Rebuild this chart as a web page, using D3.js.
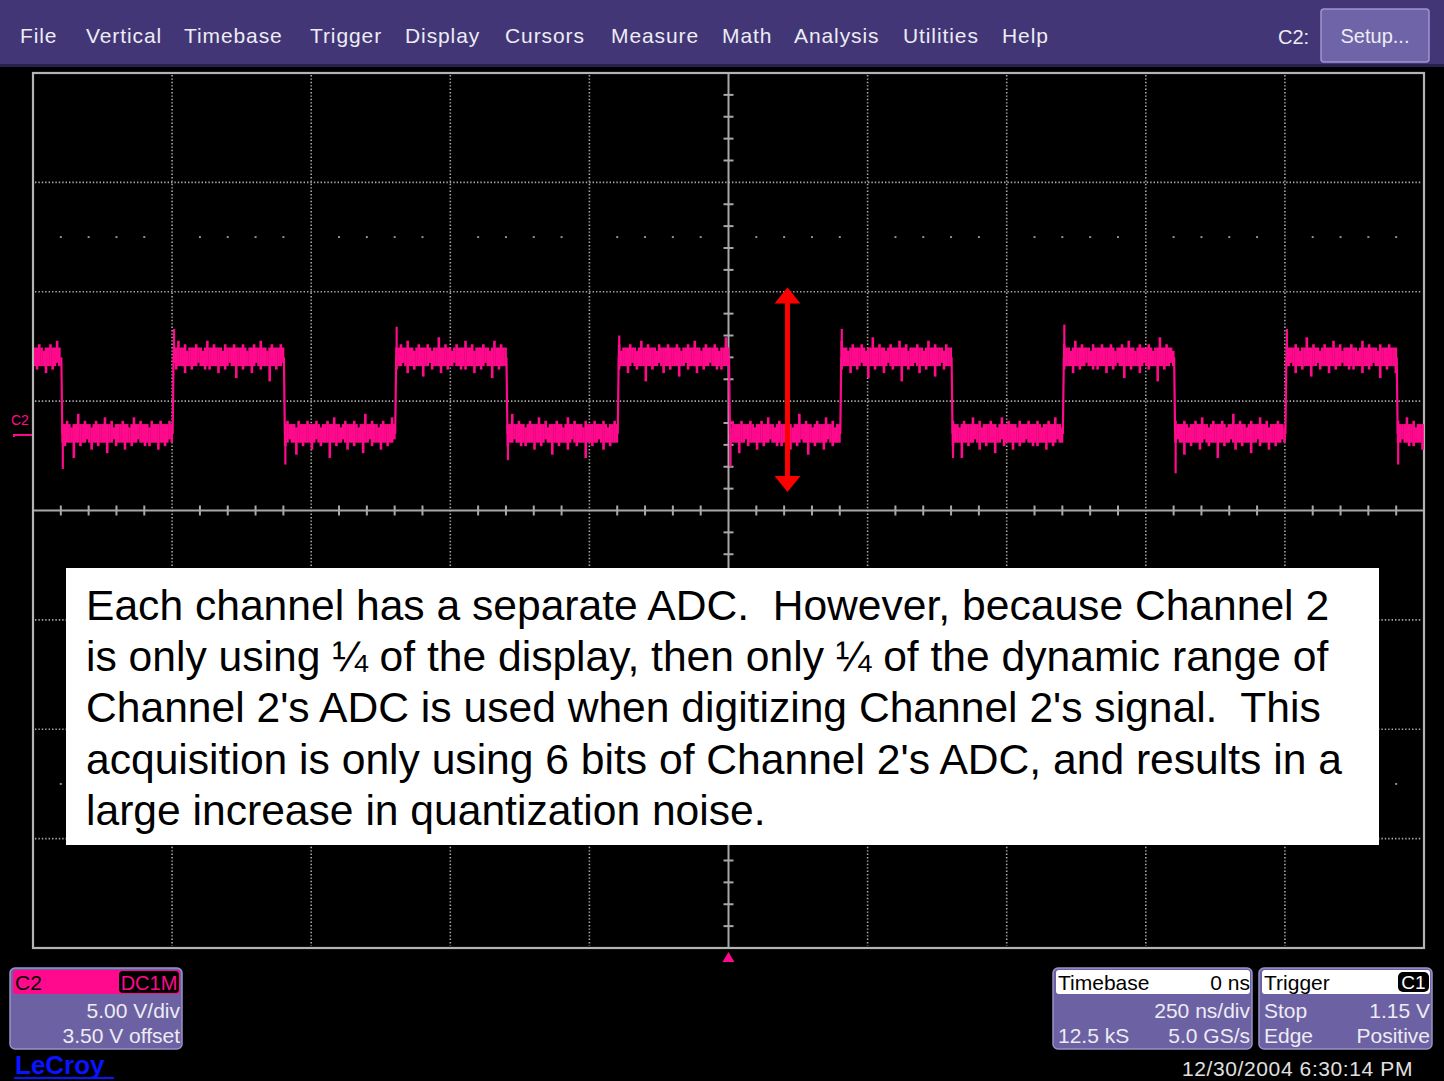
<!DOCTYPE html>
<html><head><meta charset="utf-8">
<script src="https://cdn.jsdelivr.net/npm/d3@7"></script>
<style>
html,body{margin:0;padding:0;background:#000;}
svg{display:block;}
text{font-family:"Liberation Sans",Arial,sans-serif;}
</style></head>
<body>
<script>
// ---------- data ----------
const menuItems = ["File","Vertical","Timebase","Trigger","Display","Cursors","Measure","Math","Analysis","Utilities","Help"];
const channelLabel = "C2";
const channelInfo = ["5.00 V/div","3.50 V offset"];
const couplingLabel = "DC1M";
const timebaseInfo = {title:"Timebase", delay:"0 ns", div:"250 ns/div", samples:"12.5 kS", rate:"5.0 GS/s"};
const triggerInfo = {title:"Trigger", src:"C1", mode:"Stop", level:"1.15 V", type:"Edge", slope:"Positive"};
const timestamp = "12/30/2004 6:30:14 PM";
const noteLines = [
  "Each channel has a separate ADC.  However, because Channel 2",
  "is only using \u00BC of the display, then only \u00BC of the dynamic range of",
  "Channel 2's ADC is used when digitizing Channel 2's signal.  This",
  "acquisition is only using 6 bits of Channel 2's ADC, and results in a",
  "large increase in quantization noise."
];
// axis settings: 250 ns/div (10 div), 5 V/div (8 div), offset 3.5 V
const timeDomain = [-1250, 1250];   // ns
const voltDomain = [-23.5, 16.5];   // V
// square wave (volts / ns)
const levelHigh = 3.5;
const levelLow = 0.0;
const fallEdges = [-1200, -800, -400, 0, 400, 800, 1200];
const fallUndershoot = [-1.6, -1.4, -1.2, -1.5, -1.1, -1.8, -1.4];
const riseEdges = [-1000, -600, -200, 200, 600, 1000];
const riseOvershoot = [4.8, 4.9, 4.5, 4.8, 5.0, 4.8];
// quantization noise envelope (V above / below level)
const noiseUp = [0.45,0.45,0.60,0.45,0.30,0.45,0.45,0.60,0.45,0.45,0.76,0.45,0.45,0.30,0.45,0.60,0.45,0.45,0.45,0.60,0.45,0.30,0.45,0.45,0.92,0.45,0.45,0.60,0.45,0.45,0.30,0.45,0.60,0.45,0.45,0.45,0.76,0.45,0.45,0.60,0.30,0.45,0.45,0.45,0.60,0.45,0.45,0.30,0.45,0.76,0.45,0.45,0.60,0.45,0.45,0.45,0.30,0.60,0.45,0.45,0.45,0.60,0.45];
const noiseDown = [0.40,0.56,0.40,0.40,0.40,0.72,0.40,0.40,0.56,0.40,0.25,0.40,0.40,0.95,0.40,0.40,0.56,0.40,0.40,0.40,0.72,0.40,0.25,0.40,0.56,0.40,0.40,0.40,1.10,0.40,0.40,0.56,0.40,0.40,0.25,0.40,0.72,0.40,0.40,0.56,0.40,0.40,0.40,0.88,0.40,0.40,0.25,0.56,0.40,0.40,0.40,0.72,0.40,0.40,0.56,0.40,0.40,0.25,0.40,0.40,0.56];
const sampleStep = 4; // ns per displayed column
// annotation arrow (ns, V)
const arrowT = 106, arrowTop = 6.7, arrowBottom = -2.65;

// ---------- layout ----------
const W = 1444, H = 1081;
const plot = {x0:33, x1:1424, y0:73, y1:948};
const menuX = [20,86,184,310,405,505,611,722,794,903,1002];
const pink = "#ff0a8c", gridC = "#a8a8a8", boxFill = "#6c61a2", boxStroke = "#9a92c8", textC = "#ececf4";

const svg = d3.select("body").append("svg").attr("width", W).attr("height", H);
svg.append("rect").attr("width", W).attr("height", H).attr("fill", "#000");

// menu bar
svg.append("rect").attr("x",0).attr("y",0).attr("width",W).attr("height",65).attr("fill","#433676");
svg.append("rect").attr("x",0).attr("y",64).attr("width",W).attr("height",3).attr("fill","#2a2050");
svg.selectAll("text.menu").data(menuItems).join("text").attr("class","menu")
  .attr("x",(d,i)=>menuX[i]).attr("y",43).attr("fill",textC)
  .attr("font-size",21).attr("letter-spacing",0.9).text(d=>d);
svg.append("text").attr("x",1278).attr("y",44).attr("fill",textC).attr("font-size",20).text("C2:");
svg.append("rect").attr("x",1321).attr("y",9).attr("width",108).attr("height",53).attr("rx",3)
  .attr("fill","#7064a8").attr("stroke","#9d95cf").attr("stroke-width",1.5);
svg.append("text").attr("x",1375).attr("y",43).attr("text-anchor","middle").attr("fill",textC).attr("font-size",20).text("Setup...");

// scales
const x = d3.scaleLinear().domain(timeDomain).range([plot.x0, plot.x1]);
const y = d3.scaleLinear().domain(voltDomain).range([plot.y1, plot.y0]);
const tDiv = 250, vDiv = 5;
const tTicks = d3.range(timeDomain[0], timeDomain[1] + 1, tDiv);
const vTicks = d3.range(voltDomain[0], voltDomain[1] + 0.01, vDiv);
const tCenter = 0, vCenter = -3.5;

const g = svg.append("g");
// dotted grid
g.selectAll("line.vg").data(tTicks.slice(1,-1).filter(t=>t!==tCenter)).join("line")
  .attr("x1",d=>x(d)).attr("x2",d=>x(d)).attr("y1",plot.y0+2).attr("y2",plot.y1-2)
  .attr("stroke",gridC).attr("stroke-width",1.6).attr("stroke-dasharray","1.4,2");
g.selectAll("line.hg").data(vTicks.slice(1,-1).filter(v=>Math.abs(v-vCenter)>0.01)).join("line")
  .attr("x1",plot.x0+2).attr("x2",plot.x1-2).attr("y1",d=>y(d)).attr("y2",d=>y(d))
  .attr("stroke",gridC).attr("stroke-width",1.6).attr("stroke-dasharray","1.4,2");
// sparse dot rows at +-2.5 div
const minorT = d3.range(timeDomain[0], timeDomain[1] + 0.1, tDiv/5).filter((t,i)=>i%5!==0);
[vCenter + 2.5*vDiv, vCenter - 2.5*vDiv].forEach(v=>{
  g.selectAll(null).data(minorT).join("rect")
    .attr("x",d=>x(d)-1).attr("y",y(v)-1).attr("width",2).attr("height",2).attr("fill","#909090");
});
// center axes with ticks
g.append("line").attr("x1",plot.x0).attr("x2",plot.x1).attr("y1",y(vCenter)).attr("y2",y(vCenter)).attr("stroke",gridC).attr("stroke-width",2);
g.append("line").attr("x1",x(tCenter)).attr("x2",x(tCenter)).attr("y1",plot.y0).attr("y2",plot.y1).attr("stroke",gridC).attr("stroke-width",2);
g.selectAll(null).data(minorT).join("line")
  .attr("x1",d=>x(d)).attr("x2",d=>x(d)).attr("y1",y(vCenter)-5).attr("y2",y(vCenter)+5).attr("stroke",gridC).attr("stroke-width",2);
const minorV = d3.range(voltDomain[0], voltDomain[1]+0.01, vDiv/5).filter((v,i)=>i%5!==0);
g.selectAll(null).data(minorV).join("line")
  .attr("x1",x(tCenter)-5).attr("x2",x(tCenter)+5).attr("y1",d=>y(d)).attr("y2",d=>y(d)).attr("stroke",gridC).attr("stroke-width",2);
// frame
g.append("rect").attr("x",plot.x0).attr("y",plot.y0).attr("width",plot.x1-plot.x0).attr("height",plot.y1-plot.y0)
  .attr("fill","none").attr("stroke","#b4b4b4").attr("stroke-width",2.2);

// ---------- waveform ----------
const edges = fallEdges.map((t,i)=>({t, type:"fall", ext:fallUndershoot[i]}))
  .concat(riseEdges.map((t,i)=>({t, type:"rise", ext:riseOvershoot[i]})))
  .sort((a,b)=>a.t-b.t);
const bounds = [timeDomain[0]].concat(edges.map(e=>e.t), [timeDomain[1]]);
const segs = [];
for (let i=0;i<bounds.length-1;i++){
  const startLevel = edges[0].type==="fall" ? levelHigh : levelLow;
  const lvl = (i%2===0) ? startLevel : (startLevel===levelHigh?levelLow:levelHigh);
  segs.push({t0:bounds[i], t1:bounds[i+1], level:lvl, k:i});
}
const cols = [];
segs.forEach(s=>{
  let j=0;
  for (let t=s.t0+1; t<s.t1-1; t+=sampleStep, j++){
    const iu = (s.k*17 + j) % noiseUp.length;
    const id = (s.k*23 + j*1) % noiseDown.length;
    cols.push({t, top:s.level+noiseUp[iu], bot:s.level-noiseDown[id]});
  }
});
const colW = x(sampleStep) - x(0) + 0.4;
svg.append("clipPath").attr("id","clip").append("rect").attr("x",plot.x0+1).attr("y",plot.y0).attr("width",plot.x1-plot.x0-1).attr("height",plot.y1-plot.y0);
const wave = svg.append("g").attr("clip-path","url(#clip)");
wave.selectAll("rect").data(cols).join("rect")
  .attr("x",d=>x(d.t)).attr("width",colW)
  .attr("y",d=>y(d.top)).attr("height",d=>y(d.bot)-y(d.top)).attr("fill",pink);
wave.selectAll("line.edge").data(edges).join("line")
  .attr("x1",d=>x(d.t)+0.5).attr("x2",d=>x(d.t)+1.5)
  .attr("y1",d=>y(d.type==="fall"?levelHigh:levelLow)).attr("y2",d=>y(d.type==="fall"?levelLow:levelHigh))
  .attr("stroke",pink).attr("stroke-width",2.2);
wave.selectAll("line.ext").data(edges).join("line")
  .attr("x1",d=>x(d.t)+2).attr("x2",d=>x(d.t)+2)
  .attr("y1",d=>y(d.type==="fall"?levelLow:levelHigh)).attr("y2",d=>y(d.ext))
  .attr("stroke",pink).attr("stroke-width",2.2);

// ground marker
svg.append("text").attr("x",11).attr("y",425).attr("fill",pink).attr("font-size",14).text(channelLabel);
svg.append("path").attr("d",`M14,${y(levelLow)+1} L32,${y(levelLow)+1}`).attr("stroke",pink).attr("stroke-width",2);
svg.append("path").attr("d",`M14,${y(levelLow)} l0,3`).attr("stroke",pink).attr("stroke-width",2);

// trigger position marker
svg.append("path").attr("d",`M${x(0)},952 l-6,10 l12,0 z`).attr("fill",pink);

// annotation arrow
const ax = x(arrowT), ayT = y(arrowTop), ayB = y(arrowBottom);
svg.append("line").attr("x1",ax).attr("x2",ax).attr("y1",ayT+14).attr("y2",ayB-14).attr("stroke","#ff0000").attr("stroke-width",5);
svg.append("path").attr("d",`M${ax},${ayT} l-13,16 l26,0 z`).attr("fill","#ff0000");
svg.append("path").attr("d",`M${ax},${ayB} l-13,-16 l26,0 z`).attr("fill","#ff0000");

// text box
svg.append("rect").attr("x",66).attr("y",568).attr("width",1313).attr("height",277).attr("fill","#fff");
svg.selectAll("text.note").data(noteLines).join("text").attr("class","note")
  .attr("x",86).attr("y",(d,i)=>620+i*51.2).attr("fill","#000").attr("font-size",42.6)
  .attr("font-family","'Liberation Sans',Arial,sans-serif")
  .style("white-space","pre").text(d=>d);

// ---------- bottom info boxes ----------
function box(x0,y0,w,h){
  svg.append("rect").attr("x",x0).attr("y",y0).attr("width",w).attr("height",h).attr("rx",5)
    .attr("fill",boxFill).attr("stroke",boxStroke).attr("stroke-width",1.5);
}
// channel box
box(10,968,172,81);
svg.append("rect").attr("x",13).attr("y",970).attr("width",167).attr("height",24).attr("rx",3).attr("fill",pink);
svg.append("text").attr("x",15).attr("y",990).attr("font-size",21).attr("fill","#000").text(channelLabel);
svg.append("rect").attr("x",119).attr("y",971).attr("width",60).attr("height",22).attr("rx",4).attr("fill","#000");
svg.append("text").attr("x",149).attr("y",990).attr("text-anchor","middle").attr("font-size",20).attr("fill",pink).text(couplingLabel);
channelInfo.forEach((s,i)=>svg.append("text").attr("x",180).attr("y",1018+i*25).attr("text-anchor","end").attr("font-size",21).attr("fill",textC).text(s));
// LeCroy logo
svg.append("text").attr("x",15).attr("y",1074).attr("font-size",26).attr("font-weight","bold").attr("fill","#0a14ff").text("LeCroy");
svg.append("rect").attr("x",14).attr("y",1077).attr("width",100).attr("height",2).attr("fill","#0a14ff");

// timebase box
box(1053,968,199,81);
svg.append("rect").attr("x",1056).attr("y",970).attr("width",194).attr("height",24).attr("rx",3).attr("fill","#fff");
svg.append("text").attr("x",1058).attr("y",990).attr("font-size",21).attr("fill","#000").text(timebaseInfo.title);
svg.append("text").attr("x",1250).attr("y",990).attr("text-anchor","end").attr("font-size",21).attr("fill","#000").text(timebaseInfo.delay);
svg.append("text").attr("x",1250).attr("y",1018).attr("text-anchor","end").attr("font-size",21).attr("fill",textC).text(timebaseInfo.div);
svg.append("text").attr("x",1058).attr("y",1043).attr("font-size",21).attr("fill",textC).text(timebaseInfo.samples);
svg.append("text").attr("x",1250).attr("y",1043).attr("text-anchor","end").attr("font-size",21).attr("fill",textC).text(timebaseInfo.rate);

// trigger box
box(1259,968,173,81);
svg.append("rect").attr("x",1262).attr("y",970).attr("width",168).attr("height",24).attr("rx",3).attr("fill","#fff");
svg.append("text").attr("x",1264).attr("y",990).attr("font-size",21).attr("fill","#000").text(triggerInfo.title);
svg.append("rect").attr("x",1398).attr("y",972).attr("width",31).attr("height",20).attr("rx",5).attr("fill","#000");
svg.append("text").attr("x",1413.5).attr("y",989).attr("text-anchor","middle").attr("font-size",19).attr("fill","#fff").text(triggerInfo.src);
svg.append("text").attr("x",1264).attr("y",1018).attr("font-size",21).attr("fill",textC).text(triggerInfo.mode);
svg.append("text").attr("x",1430).attr("y",1018).attr("text-anchor","end").attr("font-size",21).attr("fill",textC).text(triggerInfo.level);
svg.append("text").attr("x",1264).attr("y",1043).attr("font-size",21).attr("fill",textC).text(triggerInfo.type);
svg.append("text").attr("x",1430).attr("y",1043).attr("text-anchor","end").attr("font-size",21).attr("fill",textC).text(triggerInfo.slope);

// timestamp
svg.append("text").attr("x",1413).attr("y",1076).attr("text-anchor","end").attr("font-size",21).attr("letter-spacing",0.6).attr("fill","#e0e0e0").text(timestamp);
</script>
</body></html>
